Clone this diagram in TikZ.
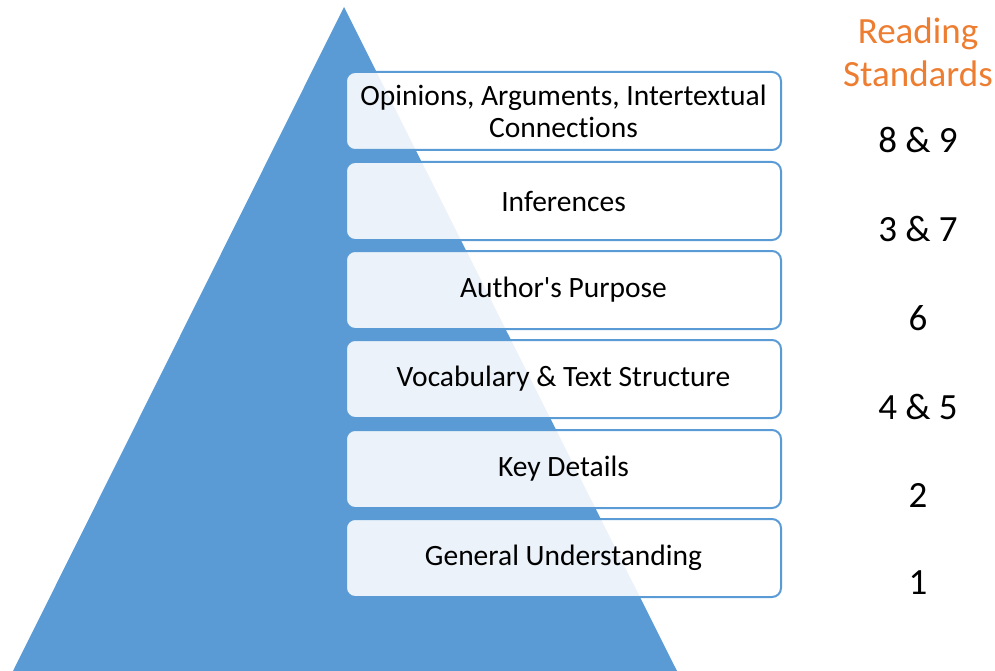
\documentclass[tikz,border=0pt]{standalone}
\usepackage{fontspec}
\setmainfont{Carlito}[Ligatures={TeXOff,NoCommon}]
\definecolor{pblue}{RGB}{91,155,213}
\definecolor{porange}{RGB}{237,125,49}
\begin{document}
\begin{tikzpicture}[x=1pt,y=-1pt,
  level/.style={draw=pblue,line width=2pt,fill=white,fill opacity=0.88,text opacity=1,rounded corners=9pt,minimum width=435pt,minimum height=78pt,inner sep=0pt,align=center,font=\fontsize{29.5}{32}\selectfont},
  std/.style={font=\fontsize{37}{43}\selectfont,text=black,inner sep=0pt},
  head/.style={font=\fontsize{37}{43}\selectfont,text=porange,inner sep=0pt,align=center}]
\useasboundingbox (0,0) rectangle (995,671);
\fill[pblue] (344,7) -- (677,671) -- (13,671) -- cycle;
\node[level] (b1) at (563.5,111) {Opinions, Arguments, Intertextual\\Connections};
\node[level] (b2) at (563.5,201) {Inferences};
\node[level] (b3) at (563.5,290) {Author's Purpose};
\node[level] (b4) at (563.5,379) {Vocabulary \& Text Structure};
\node[level] (b5) at (563.5,469) {Key Details};
\node[level] (b6) at (563.5,558) {General Understanding};
\node[head] (h) at (918,52) {Reading\\Standards};
\node[std] (s1) at (918,140) {8 \& 9};
\node[std] (s2) at (918,229) {3 \& 7};
\node[std] (s3) at (918,318) {6};
\node[std] (s4) at (918,407) {4 \& 5};
\node[std] (s5) at (918,495) {2};
\node[std] (s6) at (918,583) {1};
\end{tikzpicture}
\end{document}
